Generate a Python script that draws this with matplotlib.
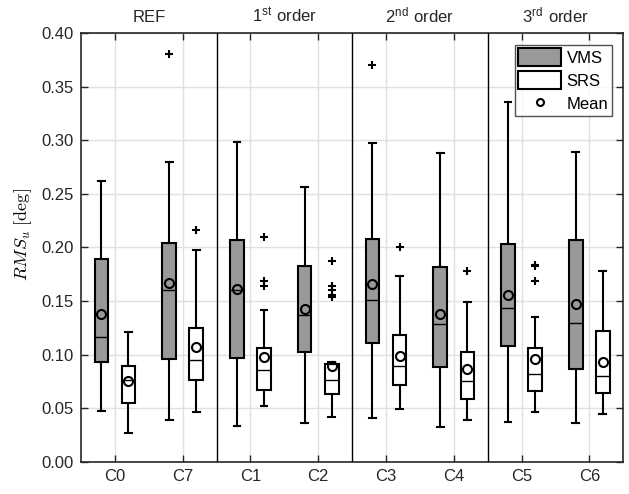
import numpy as np
import matplotlib.pyplot as plt
from matplotlib.patches import Patch
from matplotlib.lines import Line2D

plt.rcParams['font.family'] = ['Liberation Sans', 'DejaVu Sans']
plt.rcParams['mathtext.fontset'] = 'cm'

# data
cases = ['C0', 'C7', 'C1', 'C2', 'C3', 'C4', 'C5', 'C6']
groups = ['REF', '1$^{\\mathregular{st}}$ order', '2$^{\\mathregular{nd}}$ order', '3$^{\\mathregular{rd}}$ order']

vms_whislo = [0.0475, 0.039, 0.034, 0.036, 0.041, 0.033, 0.037, 0.036]
vms_q1 = [0.093, 0.096, 0.097, 0.103, 0.111, 0.089, 0.108, 0.087]
vms_med = [0.117, 0.160, 0.160, 0.137, 0.151, 0.129, 0.144, 0.130]
vms_q3 = [0.189, 0.204, 0.207, 0.183, 0.208, 0.182, 0.203, 0.207]
vms_whishi = [0.262, 0.280, 0.298, 0.256, 0.297, 0.288, 0.336, 0.289]
vms_mean = [0.138, 0.167, 0.161, 0.143, 0.166, 0.138, 0.156, 0.147]
vms_fliers = [[], [0.380], [], [], [0.370], [], [], []]

srs_whislo = [0.027, 0.047, 0.052, 0.042, 0.049, 0.039, 0.047, 0.045]
srs_q1 = [0.055, 0.076, 0.067, 0.063, 0.072, 0.059, 0.066, 0.064]
srs_med = [0.0765, 0.095, 0.0855, 0.0765, 0.0895, 0.0755, 0.082, 0.080]
srs_q3 = [0.0895, 0.125, 0.106, 0.091, 0.118, 0.103, 0.106, 0.122]
srs_whishi = [0.1215, 0.198, 0.142, 0.093, 0.173, 0.1495, 0.1355, 0.178]
srs_mean = [0.0758, 0.1075, 0.098, 0.0895, 0.099, 0.087, 0.0957, 0.093]
srs_fliers = [[], [0.216], [0.2095, 0.169, 0.164], [0.187, 0.164, 0.160, 0.156, 0.154],
              [0.200], [0.178], [0.184, 0.1825, 0.1685], []]


def make_stats(lo, q1, med, q3, hi, mean, fl):
    return [dict(whislo=lo[i], q1=q1[i], med=med[i], q3=q3[i], whishi=hi[i],
                 mean=mean[i], fliers=fl[i]) for i in range(len(lo))]


fig = plt.figure(figsize=(6.29, 4.94), dpi=100)
ax = fig.add_axes([0.1288, 0.0648, 0.862, 0.8684])

pos = np.arange(1, len(cases) + 1)
common = dict(widths=0.2, patch_artist=True, showmeans=True, showcaps=True,
              whiskerprops=dict(color='k', lw=1.5),
              capprops=dict(color='k', lw=1.5),
              medianprops=dict(color='k', lw=1),
              meanprops=dict(marker='o', markerfacecolor='none', markeredgecolor='k',
                             markersize=6.5, markeredgewidth=1.5),
              flierprops=dict(marker='+', markeredgecolor='k', markersize=6,
                              markeredgewidth=1.5))
b1 = ax.bxp(make_stats(vms_whislo, vms_q1, vms_med, vms_q3, vms_whishi, vms_mean, vms_fliers),
            positions=pos - 0.2,
            boxprops=dict(facecolor='#999999', edgecolor='k', lw=1.5), **common)
b2 = ax.bxp(make_stats(srs_whislo, srs_q1, srs_med, srs_q3, srs_whishi, srs_mean, srs_fliers),
            positions=pos + 0.2,
            boxprops=dict(facecolor='white', edgecolor='k', lw=1.5), **common)
for c in b1['caps'] + b2['caps']:
    x = c.get_xdata()
    m = x.mean()
    c.set_xdata([m - 0.05, m + 0.05])

for s in [2.5, 4.5, 6.5]:
    ax.axvline(s, color='k', lw=1, zorder=3)

ax.set_xlim(0.5, 8.5)
ax.set_ylim(0, 0.4)
ax.set_xticks(pos)
ax.set_xticklabels(cases)
ax.set_yticks(np.arange(0, 0.41, 0.05))
ax.set_yticklabels(['%.2f' % v for v in np.arange(0, 0.41, 0.05)])
ax.tick_params(direction='in', top=True, right=True, labelsize=12, colors='#262626',
               length=5, width=1, pad=5)
ax.grid(True, color='#e0e0e0', lw=1)
ax.set_axisbelow(True)
for sp in ax.spines.values():
    sp.set_color('#262626')
    sp.set_linewidth(1.2)

for i, g in enumerate(groups):
    ax.text(1.5 + 2 * i, 0.407, g, ha='center', va='bottom', fontsize=12, color='#262626')

ax.set_ylabel(r'$RMS_u\ \mathrm{[deg]}$', fontsize=13)
ax.yaxis.set_label_coords(-0.087, 0.53)

handles = [Patch(facecolor='#999999', edgecolor='k', lw=1.5, label='VMS'),
           Patch(facecolor='white', edgecolor='k', lw=1.5, label='SRS'),
           Line2D([], [], ls='none', marker='o', markerfacecolor='none', markeredgecolor='k',
                  markersize=5, markeredgewidth=1.5, label='Mean')]
leg = ax.legend(handles=handles, loc='upper right', fontsize=12, frameon=True, fancybox=False,
                edgecolor='#262626', handlelength=2.6, handleheight=1.3, handletextpad=0.3,
                borderpad=0.2, labelspacing=0.3, borderaxespad=0.7)
leg.get_frame().set_linewidth(1)

fig.savefig('out.png', dpi=100)
